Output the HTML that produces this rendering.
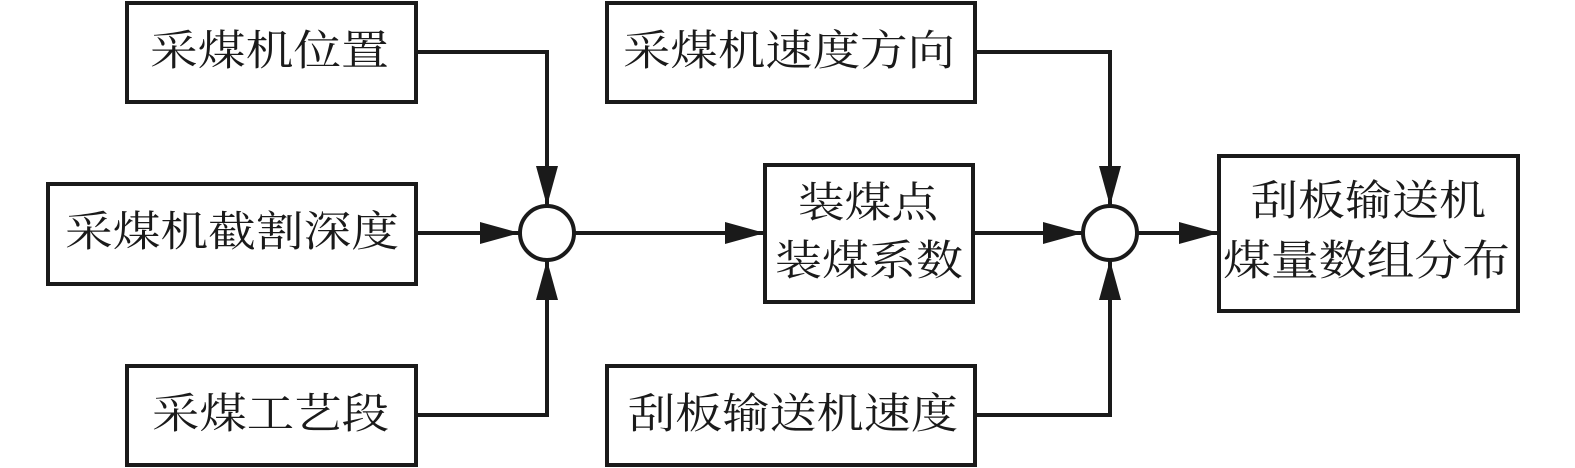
<!DOCTYPE html>
<html><head><meta charset="utf-8"><style>html,body{margin:0;padding:0;background:#fff}svg{display:block}</style></head>
<body>
<svg width="1575" height="468" viewBox="0 0 1575 468" xmlns="http://www.w3.org/2000/svg">
<defs>
<marker id="a" viewBox="0 0 40 22" refX="40" refY="11" markerWidth="40" markerHeight="22" markerUnits="userSpaceOnUse" orient="auto">
<path d="M0,0 L40,11 L0,22 Z" fill="#1a1a1a"/>
</marker>
</defs>
<g fill="none" stroke="#1a1a1a" stroke-width="4">
<rect x="127" y="3" width="289" height="99"/>
<rect x="48" y="184" width="368" height="100"/>
<rect x="127" y="366" width="289" height="99"/>
<rect x="607" y="3" width="368" height="99"/>
<rect x="607" y="366" width="368" height="99"/>
<rect x="765" y="165" width="208" height="137"/>
<rect x="1219" y="156" width="299" height="155"/>
<circle cx="547" cy="233" r="27"/>
<circle cx="1110" cy="233" r="27"/>
<polyline points="416,52 547,52 547,206" marker-end="url(#a)"/>
<polyline points="416,233 520,233" marker-end="url(#a)"/>
<polyline points="416,415 547,415 547,260" marker-end="url(#a)"/>
<polyline points="574,233 765,233" marker-end="url(#a)"/>
<polyline points="973,233 1083,233" marker-end="url(#a)"/>
<polyline points="975,52 1110,52 1110,206" marker-end="url(#a)"/>
<polyline points="975,415 1110,415 1110,260" marker-end="url(#a)"/>
<polyline points="1137,233 1219,233" marker-end="url(#a)"/>
</g>
<g font-family="'Liberation Serif','Noto Serif CJK SC',serif" font-size="42" fill="#1a1a1a" dominant-baseline="central" lengthAdjust="spacingAndGlyphs">
<text x="150" y="52" textLength="239" lengthAdjust="spacingAndGlyphs">采煤机位置</text>
<text x="65" y="233" textLength="334" lengthAdjust="spacingAndGlyphs">采煤机截割深度</text>
<text x="152" y="415" textLength="237" lengthAdjust="spacingAndGlyphs">采煤工艺段</text>
<text x="623" y="52" textLength="332" lengthAdjust="spacingAndGlyphs">采煤机速度方向</text>
<text x="628" y="415" textLength="330" lengthAdjust="spacingAndGlyphs">刮板输送机速度</text>
<text x="798" y="204" textLength="140" lengthAdjust="spacingAndGlyphs">装煤点</text>
<text x="775" y="262" textLength="188" lengthAdjust="spacingAndGlyphs">装煤系数</text>
<text x="1251" y="202" textLength="235" lengthAdjust="spacingAndGlyphs">刮板输送机</text>
<text x="1223" y="262" textLength="287" lengthAdjust="spacingAndGlyphs">煤量数组分布</text>
</g>
</svg>
</body></html>
